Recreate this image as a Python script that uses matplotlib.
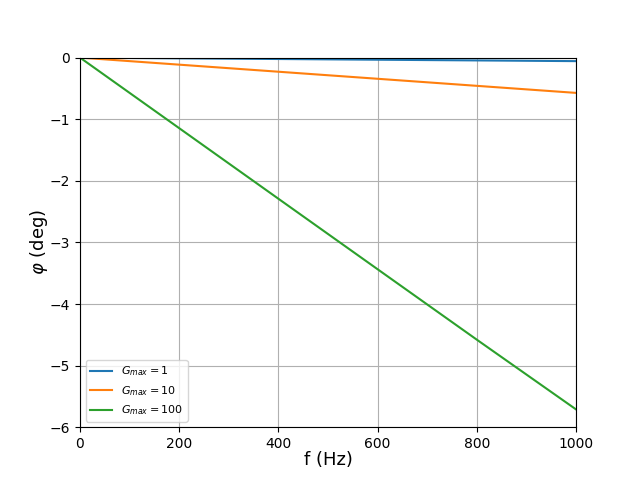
import numpy as np
import matplotlib.pyplot as plt

# values (phase in degrees)
freq = [0, 200, 400, 600, 800, 1000]
phase_g1 = [0, -0.0115, -0.0229, -0.0344, -0.0458, -0.0573]
phase_g10 = [0, -0.1146, -0.2292, -0.3438, -0.4584, -0.5729]
phase_g100 = [0, -1.1458, -2.2913, -3.4358, -4.5790, -5.7106]
labels = [r"$G_{max}=1$", r"$G_{max}=10$", r"$G_{max}=100$"]

fig, ax = plt.subplots(figsize=(6.4, 4.8), dpi=100)

ax.plot(freq, phase_g1, label=labels[0])
ax.plot(freq, phase_g10, label=labels[1])
ax.plot(freq, phase_g100, label=labels[2])

ax.set_xlim(0, 1000)
ax.set_ylim(-6, 0)
ax.grid(True)
ax.set_xlabel("f (Hz)", fontsize=13, labelpad=0)
ax.set_ylabel(r"$\varphi$ (deg)", fontsize=13, labelpad=0)
ax.legend(loc="lower left", fontsize=8)

plt.savefig("out.png", dpi=100)
